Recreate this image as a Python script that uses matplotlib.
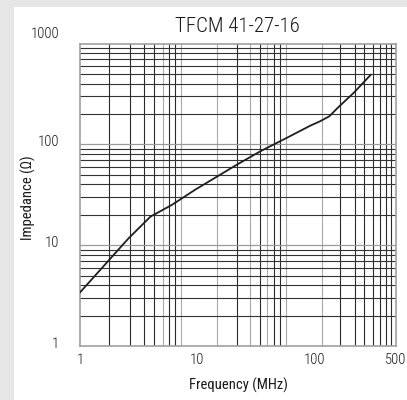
import matplotlib
matplotlib.use("Agg")
import matplotlib.pyplot as plt
from matplotlib import font_manager
from matplotlib.patches import Rectangle
from matplotlib.ticker import FixedLocator, NullLocator, FixedFormatter
import matplotlib.transforms as mtransforms

# ---- data ----
freq_mhz = [1.0, 2.6, 4.0, 6.1, 9.6, 21.8, 34.5, 58.4, 92.5, 112, 135, 160, 217, 305]
impedance_ohm = [3.4, 11.7, 19.2, 25.1, 35.4, 62.7, 85, 116, 153, 169, 190, 232, 323, 491]

x_tick_values = [1, 10, 100, 500]
x_tick_labels = ["1", "10", "100", "500"]
y_tick_values = [1, 10, 100, 1000]
y_tick_labels = ["1", "10", "100", "1000"]

title_text = "TFCM 41-27-16"
x_label_text = "Frequency (MHz)"
y_label_text = "Impedance (\u03a9)"

# vertical grid lines of the (slightly irregular) printed grid
v_grid = [1.77, 2.68, 3.52, 4.29, 5.12, 5.77, 6.49, 7.30,
          14.8, 22.0, 28.4, 34.5, 39.7, 45.5, 51.2, 57.6,
          117, 167, 224, 267, 319, 366, 412, 455]
v_grid_light = {5.12, 7.30, 14.8, 28.4, 39.7, 57.6, 117}

# ---- font ----
available = {f.name for f in font_manager.fontManager.ttflist}
family = "DejaVu Sans"
for cand in ["Liberation Sans Narrow", "Roboto Condensed", "Open Sans Condensed", "Liberation Sans"]:
    if cand in available:
        family = cand
        break
plt.rcParams["font.family"] = [family, "DejaVu Sans"]
plt.rcParams["font.weight"] = "light"

W, H = 407, 400
fig = plt.figure(figsize=(W / 100, H / 100), dpi=100)
fig.patch.set_facecolor("#e6e6e6")
fig.add_artist(Rectangle((14 / W, 0), 1 - 14 / W, 1 - 7 / H,
                         transform=fig.transFigure, facecolor="white",
                         edgecolor="none", zorder=0))

left, right, top, bottom = 80, 396, 43.5, 346
ax = fig.add_axes([left / W, 1 - bottom / H, (right - left) / W, (bottom - top) / H])
ax.set_facecolor("white")
ax.set_xscale("log")
ax.set_yscale("log")
ax.set_xlim(1, 500)
ax.set_ylim(1, 1000)

# grid
for v in v_grid:
    ax.axvline(v, color="#aaaaaa" if v in v_grid_light else "#2a2a2a", lw=0.8, zorder=1)
for k in range(3):
    base = 10 ** k
    for m in range(2, 10):
        ax.axhline(m * base, color="#333333", lw=0.8, zorder=1)
for d in [10, 100]:
    ax.axhline(d, color="#9a9a9a", lw=0.9, zorder=1)

# curve
ax.plot(freq_mhz, impedance_ohm, color="#1e1e1e", lw=1.3, zorder=3,
        solid_capstyle="round")

for s in ax.spines.values():
    s.set_color("#a0a0a0")
    s.set_linewidth(1.2)

ax.xaxis.set_major_locator(FixedLocator(x_tick_values))
ax.xaxis.set_major_formatter(FixedFormatter(x_tick_labels))
ax.xaxis.set_minor_locator(NullLocator())
ax.yaxis.set_major_locator(FixedLocator(y_tick_values))
ax.yaxis.set_major_formatter(FixedFormatter(y_tick_labels))
ax.yaxis.set_minor_locator(NullLocator())
ax.tick_params(axis="both", which="both", length=0, labelsize=10.5, colors="#1a1a1a")
ax.tick_params(axis="x", pad=5)
ax.tick_params(axis="y", pad=15)

ax.set_xlabel(x_label_text, fontsize=10.5, color="#1a1a1a", va="center")
ax.xaxis.set_label_coords(0.5, -(385 - bottom) / (bottom - top))
ax.set_ylabel(y_label_text, fontsize=10.5, color="#1a1a1a", va="center")
ax.yaxis.set_label_coords(-(left - 28) / (right - left), 0.5 - 3 / (bottom - top))

fig.text(237 / W, 1 - 27 / H, title_text, ha="center", va="center",
         fontsize=15, color="#1a1a1a")

# make sure all ticks exist, then shift y labels upward as in the print
fig.canvas.draw()
for tick in ax.yaxis.get_major_ticks():
    val = tick.get_loc()
    dy_px = 11.5 if abs(val - 1000) < 1e-6 else 3.5
    lab = tick.label1
    lab.set_transform(lab.get_transform() +
                      mtransforms.ScaledTranslation(0, dy_px / 100, fig.dpi_scale_trans))

fig.savefig("out.png", dpi=100, facecolor=fig.get_facecolor())
